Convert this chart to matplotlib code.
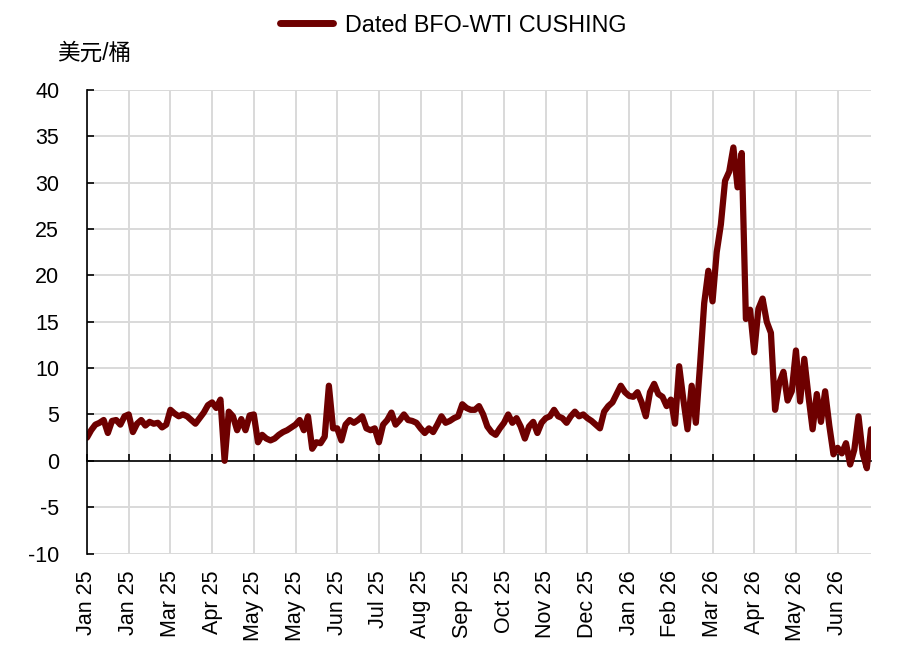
import numpy as np
import matplotlib
matplotlib.use("Agg")
import matplotlib.pyplot as plt

plt.rcParams["font.family"] = ["Liberation Sans", "Noto Sans CJK SC"]
plt.rcParams["axes.unicode_minus"] = False

# Dated BFO - WTI Cushing spread, USD/bbl, sampled every 2 trading days
spread_2025_h1 = [
    2.5, 3.3, 3.9, 4.1, 4.4, 3.0, 4.3, 4.4, 3.9, 4.8,
    5.0, 3.1, 4.0, 4.4, 3.8, 4.2, 4.0, 4.1, 3.6, 3.9,
    5.5, 5.1, 4.8, 5.0, 4.8, 4.4, 4.0, 4.6, 5.2, 6.0,
    6.3, 5.7, 6.6, 0.0, 5.3, 4.8, 3.3, 4.5, 3.3, 4.9,
    5.0, 2.0, 2.8, 2.4, 2.2, 2.4, 2.8, 3.1, 3.3, 3.6,
    3.9, 4.4, 3.3, 4.8, 1.3, 2.0, 1.9, 2.6, 8.1, 3.5,
]
spread_2025_h2 = [
    3.5, 2.2, 3.9, 4.4, 4.1, 4.4, 4.8, 3.5, 3.3, 3.5,
    2.0, 3.9, 4.4, 5.2, 3.9, 4.4, 5.0, 4.4, 4.3, 4.1,
    3.5, 3.0, 3.5, 3.1, 3.9, 4.8, 4.1, 4.3, 4.6, 4.8,
    6.1, 5.7, 5.5, 5.5, 5.9, 5.0, 3.7, 3.1, 2.8, 3.5,
    4.1, 5.0, 4.1, 4.6, 3.7, 2.4, 3.7, 4.2, 3.0, 4.1,
    4.6, 4.8, 5.5, 4.8, 4.6, 4.1, 4.8, 5.3, 4.8, 5.0,
    4.6, 4.3, 3.9, 3.5, 5.3, 5.9, 6.3, 7.2, 8.1, 7.4,
]
spread_2026 = [
    7.0, 6.9, 7.4, 6.3, 4.8, 7.4, 8.3, 7.2, 6.9, 5.9,
    6.6, 4.0, 10.2, 6.6, 3.4, 8.1, 4.1, 10.3, 17.0, 20.5,
    17.2, 22.5, 25.5, 30.2, 31.2, 33.8, 29.5, 33.2, 15.3, 16.3,
    11.7, 16.4, 17.5, 15.0, 13.8, 5.5, 8.4, 9.6, 6.5, 7.5,
    11.9, 6.4, 11.0, 7.0, 3.4, 7.2, 4.2, 7.5, 3.8, 0.7,
    1.4, 0.8, 1.9, -0.4, 1.2, 4.8, 0.8, -0.8, 3.4,
]

tick_labels = [
    "Jan 25", "Jan 25", "Mar 25", "Apr 25", "May 25", "May 25", "Jun 25",
    "Jul 25", "Aug 25", "Sep 25", "Oct 25", "Nov 25", "Dec 25", "Jan 26",
    "Feb 26", "Mar 26", "Apr 26", "May 26", "Jun 26",
]
tick_step = 10

spread = np.array(spread_2025_h1 + spread_2025_h2 + spread_2026)
x = np.arange(len(spread))
ticks = np.arange(len(tick_labels)) * tick_step

line_color = "#6e0000"
grid_color = "#d9d9d9"

fig = plt.figure(figsize=(9, 6.57), dpi=100)
ax = fig.add_axes([87 / 900, 103.5 / 657, 784 / 900, 463.5 / 657])

ax.plot(x, spread, color=line_color, lw=4.5, solid_joinstyle="round",
        solid_capstyle="round", label="Dated BFO-WTI CUSHING", zorder=3)

ax.set_xlim(0, len(spread) - 1)
ax.set_ylim(-10, 40)
ax.set_yticks(np.arange(-10, 41, 5))
ax.set_xticks(ticks)
ax.set_xticklabels(tick_labels, rotation=90)

ax.grid(True, color=grid_color, lw=1.4)
ax.set_axisbelow(True)
for side in ["top", "right", "bottom"]:
    ax.spines[side].set_visible(False)
ax.spines["left"].set_color("black")
ax.spines["left"].set_linewidth(1.2)
ax.spines["left"].set_zorder(4)

ax.tick_params(axis="y", direction="in", length=5, width=1.2, pad=20,
               labelsize=15.5)
ax.tick_params(axis="x", length=0, pad=12, labelsize=15.5)

# zero line with its own upward ticks
zero_axis = ax.secondary_xaxis(10 / 50)
zero_axis.set_zorder(2)
zero_axis.set_xticks(ticks)
zero_axis.set_xticklabels([])
zero_axis.tick_params(direction="in", length=5, width=1.2, color="black")
zero_axis.spines["bottom"].set_linewidth(1.2)
zero_axis.spines["bottom"].set_color("black")

fig.text(57 / 900, 1 - 53 / 657, "美元/桶", fontsize=16.3, va="center", ha="left")

leg = fig.legend(loc="center", bbox_to_anchor=(453 / 900, 1 - 25 / 657),
                 frameon=False, fontsize=16.8, handlelength=2.3,
                 handletextpad=0.5)
for h in leg.legend_handles:
    h.set_linewidth(5)
    h.set_solid_capstyle("round")

fig.savefig("out.png", dpi=100)
